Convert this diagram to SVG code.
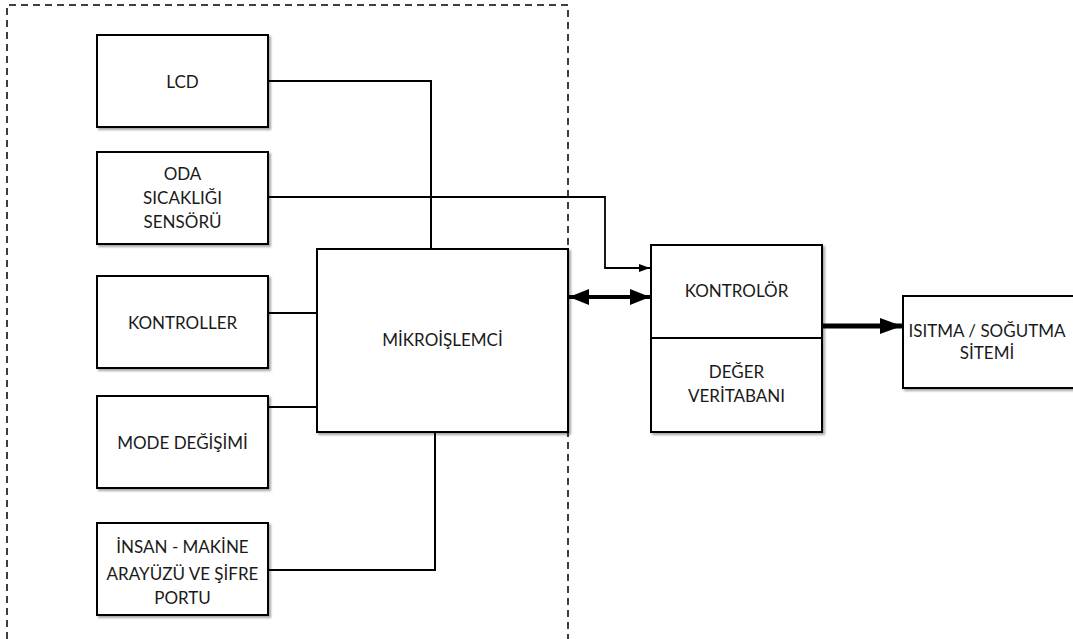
<svg xmlns="http://www.w3.org/2000/svg" width="1073" height="639" viewBox="0 0 1073 639">
<style>
.box{fill:#fff;stroke:#000;stroke-width:2;filter:url(#sh)}
.ln{fill:none;stroke:#000;stroke-width:2}
text{font-family:Lato,"Open Sans","Liberation Sans",sans-serif;font-size:17px;fill:#1a1a1a;text-anchor:middle}
</style>
<defs>
<filter id="sh" x="-5%" y="-5%" width="115%" height="115%">
<feDropShadow dx="2" dy="2" stdDeviation="1.2" flood-color="#000" flood-opacity="0.35"/>
</filter>
<marker id="sm" viewBox="0 0 11 8" refX="11" refY="4" markerWidth="11" markerHeight="8" markerUnits="userSpaceOnUse" orient="auto">
<path d="M0,0 L11,4 L0,8 z" fill="#000"/>
</marker>
<marker id="big" viewBox="0 0 20 16" refX="20" refY="8" markerWidth="20" markerHeight="16" markerUnits="userSpaceOnUse" orient="auto-start-reverse">
<path d="M0,0 L20,8 L0,16 z" fill="#000"/>
</marker>
<marker id="big2" viewBox="0 0 22 16" refX="22" refY="8" markerWidth="22" markerHeight="16" markerUnits="userSpaceOnUse" orient="auto">
<path d="M0,0 L22,8 L0,16 z" fill="#000"/>
</marker>
</defs>
<rect width="1073" height="639" fill="#fff"/>
<path d="M7,639 V5 H568 V639" fill="none" stroke="#000" stroke-width="1.5" stroke-dasharray="7 5"/>
<g id="connectors">
<path class="ln" d="M268,81 H431 V249"/>
<path class="ln" style="stroke-width:1.8" d="M268,197 H605 V268 H650" marker-end="url(#sm)"/>
<path class="ln" d="M268,313 H317"/>
<path class="ln" d="M268,407 H317"/>
<path class="ln" d="M268,570 H435 V432"/>
<path class="ln" style="stroke-width:4" d="M569,297 H650" marker-start="url(#big)" marker-end="url(#big)"/>
<path class="ln" style="stroke-width:5" d="M821,326 H902" marker-end="url(#big2)"/>
</g>
<g id="lcd"><rect class="box" x="97" y="35" width="171" height="92"/><text x="182.5" y="88">LCD</text></g>
<g id="oda"><rect class="box" x="97" y="152" width="171" height="92"/><text x="182.5" y="180">ODA</text><text x="182.5" y="204">SICAKLIĞI</text><text x="182.5" y="228">SENSÖRÜ</text></g>
<g id="kontroller"><rect class="box" x="97" y="276" width="171" height="92"/><text x="182.5" y="329">KONTROLLER</text></g>
<g id="mode"><rect class="box" x="97" y="396" width="171" height="92"/><text x="182.5" y="449">MODE DEĞİŞİMİ</text></g>
<g id="insan"><rect class="box" x="97" y="523" width="171" height="92"/><text x="182.5" y="553">İNSAN - MAKİNE</text><text x="182.5" y="580">ARAYÜZÜ VE ŞİFRE</text><text x="182.5" y="604">PORTU</text></g>
<g id="mikro"><rect class="box" x="317" y="249" width="251" height="183"/><text x="442.5" y="346">MİKROİŞLEMCİ</text></g>
<g id="kontrolor"><rect class="box" x="651" y="245" width="171" height="187"/><line x1="651" y1="338" x2="822" y2="338" stroke="#000" stroke-width="2"/><text x="736.5" y="297">KONTROLÖR</text><text x="736.5" y="378">DEĞER</text><text x="736.5" y="402">VERİTABANI</text></g>
<g id="isitma"><rect class="box" x="903" y="296" width="180" height="92"/><text x="987" y="337">ISITMA / SOĞUTMA</text><text x="987" y="359">SİTEMİ</text></g>
</svg>
